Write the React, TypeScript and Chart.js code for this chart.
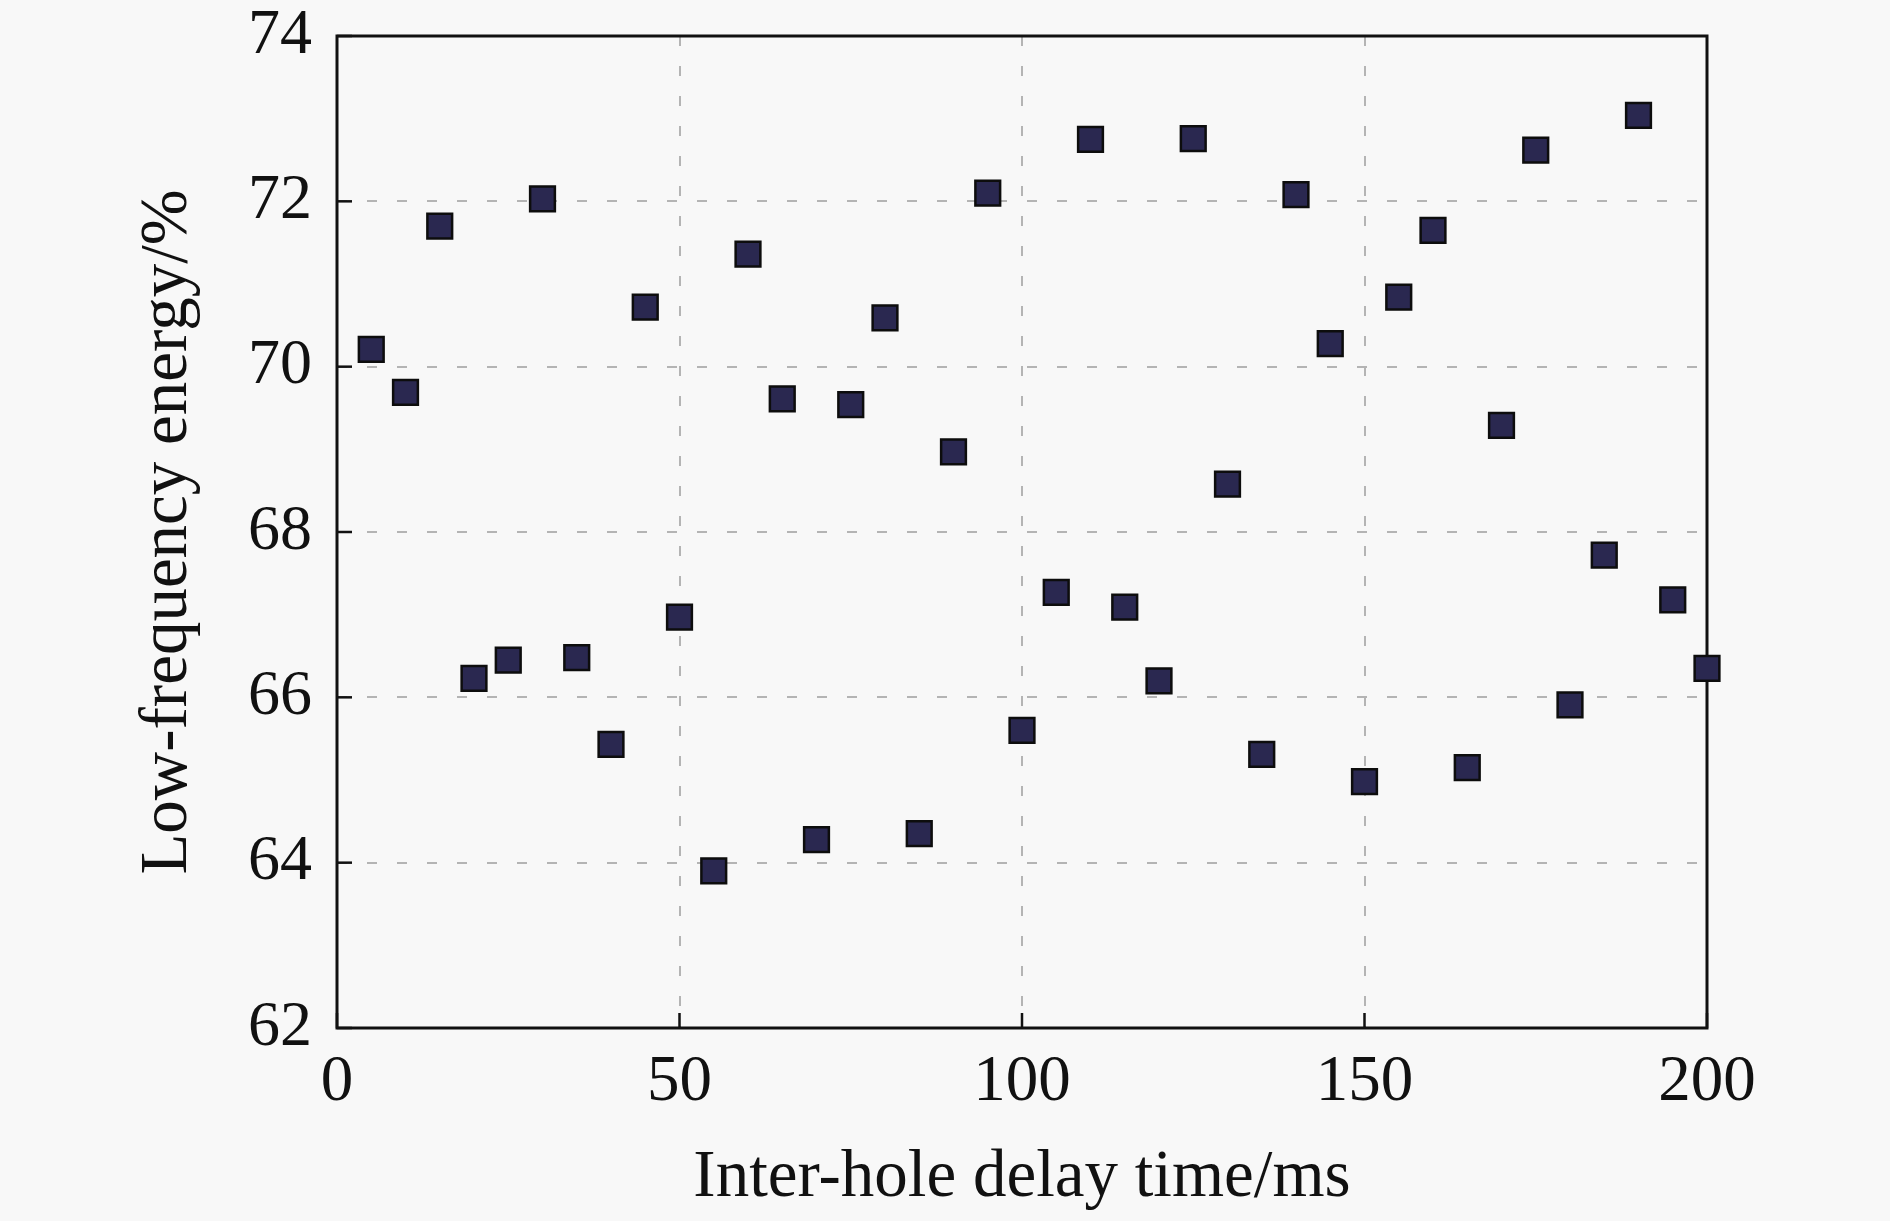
import React, { useEffect, useRef } from 'react';
import { Chart, registerables } from 'chart.js';

Chart.register(...registerables);

// delay time (ms) and low-frequency energy share (%)
const delayTimes = [
  5, 10, 15, 20, 25, 30, 35, 40, 45, 50, 55, 60, 65, 70, 75, 80, 85, 90, 95, 100,
  105, 110, 115, 120, 125, 130, 135, 140, 145, 150, 155, 160, 165, 170, 175, 180, 185, 190, 195, 200,
];
const lowFreqEnergy = [
  70.21, 69.69, 71.7, 66.23, 66.45, 72.03, 66.48, 65.43, 70.72, 66.97,
  63.9, 71.36, 69.61, 64.28, 69.54, 70.59, 64.35, 68.97, 72.1, 65.6,
  67.27, 72.75, 67.09, 66.2, 72.76, 68.58, 65.31, 72.08, 70.28, 64.98,
  70.84, 71.65, 65.15, 69.29, 72.62, 65.91, 67.72, 73.04, 67.18, 66.35,
];
const xTicks = [0, 50, 100, 150, 200];
const yTicks = [62, 64, 66, 68, 70, 72, 74];

const FONT = '"Liberation Serif", "Times New Roman", serif';

// box around the plot + short inward ticks on left and bottom
const framePlugin = {
  id: 'frame',
  beforeDatasetsDraw(chart: any) {
    const { ctx, chartArea } = chart;
    const { left, right, top, bottom } = chartArea;
    const xs = chart.scales.x;
    const ys = chart.scales.y;
    ctx.save();
    ctx.strokeStyle = '#111';
    ctx.lineWidth = 2.5;
    xTicks.forEach((v) => {
      const px = xs.getPixelForValue(v);
      ctx.beginPath();
      ctx.moveTo(px, bottom);
      ctx.lineTo(px, bottom - 15);
      ctx.stroke();
    });
    yTicks.forEach((v) => {
      const py = ys.getPixelForValue(v);
      ctx.beginPath();
      ctx.moveTo(left, py);
      ctx.lineTo(left + 15, py);
      ctx.stroke();
    });
    ctx.lineWidth = 3;
    ctx.strokeRect(left, top, right - left, bottom - top);
    ctx.restore();
  },
};

export default function App() {
  const canvasRef = useRef<HTMLCanvasElement>(null);
  const chartRef = useRef<Chart | null>(null);

  useEffect(() => {
    document.body.style.margin = '0';
    document.body.style.background = '#f8f8f8';
    if (!canvasRef.current) return;
    const ctx = canvasRef.current.getContext('2d');
    if (!ctx) return;
    if (chartRef.current) chartRef.current.destroy();

    chartRef.current = new Chart(ctx, {
      type: 'scatter',
      data: {
        datasets: [
          {
            label: 'Low-frequency energy',
            data: delayTimes.map((t, i) => ({ x: t, y: lowFreqEnergy[i] })),
            pointStyle: 'rect',
            pointRadius: 17.5,
            pointHoverRadius: 17.5,
            backgroundColor: '#2a2850',
            borderColor: '#0d0d0d',
            borderWidth: 2.5,
            clip: false,
          },
        ],
      },
      options: {
        responsive: false,
        animation: false,
        devicePixelRatio: 1,
        layout: { padding: { top: 36, right: 183, left: 0, bottom: 0 } },
        plugins: {
          legend: { display: false },
          tooltip: { enabled: false },
        },
        scales: {
          x: {
            type: 'linear',
            min: 0,
            max: 200,
            afterBuildTicks: (scale: any) => {
              scale.ticks = xTicks.map((v) => ({ value: v }));
            },
            afterFit: (scale: any) => {
              scale.height = 193;
              scale.paddingLeft = 0;
              scale.paddingRight = 0;
            },
            grid: {
              color: (c: any) => (c.tick.value === 0 || c.tick.value === 200 ? 'rgba(0,0,0,0)' : '#b4b4b4'),
              lineWidth: 2,
              drawTicks: false,
            },
            border: { display: false, dash: [10, 20] },
            ticks: {
              padding: 16,
              color: '#111',
              font: { family: FONT, size: 65 },
            },
            title: {
              display: true,
              text: 'Inter-hole delay time/ms',
              color: '#111',
              font: { family: FONT, size: 67 },
              padding: { top: 0, bottom: 2 },
            },
          },
          y: {
            type: 'linear',
            min: 62,
            max: 74,
            afterBuildTicks: (scale: any) => {
              scale.ticks = yTicks.map((v) => ({ value: v }));
            },
            afterFit: (scale: any) => {
              scale.width = 337;
              scale.paddingTop = 0;
              scale.paddingBottom = 0;
            },
            grid: {
              color: (c: any) => (c.tick.value === 62 || c.tick.value === 74 ? 'rgba(0,0,0,0)' : '#b4b4b4'),
              lineWidth: 2,
              drawTicks: false,
            },
            border: { display: false, dash: [10, 20] },
            ticks: {
              padding: 25,
              color: '#111',
              font: { family: FONT, size: 64 },
            },
            title: {
              display: true,
              text: 'Low-frequency energy/%',
              color: '#111',
              font: { family: FONT, size: 67 },
              padding: { top: 128, bottom: 0 },
            },
          },
        },
      },
      plugins: [framePlugin],
    });

    return () => {
      if (chartRef.current) chartRef.current.destroy();
      chartRef.current = null;
    };
  }, []);

  return (
    <div style={{ width: 1890, height: 1221, background: '#f8f8f8' }}>
      <canvas ref={canvasRef} width={1890} height={1221} style={{ display: 'block' }} />
    </div>
  );
}
